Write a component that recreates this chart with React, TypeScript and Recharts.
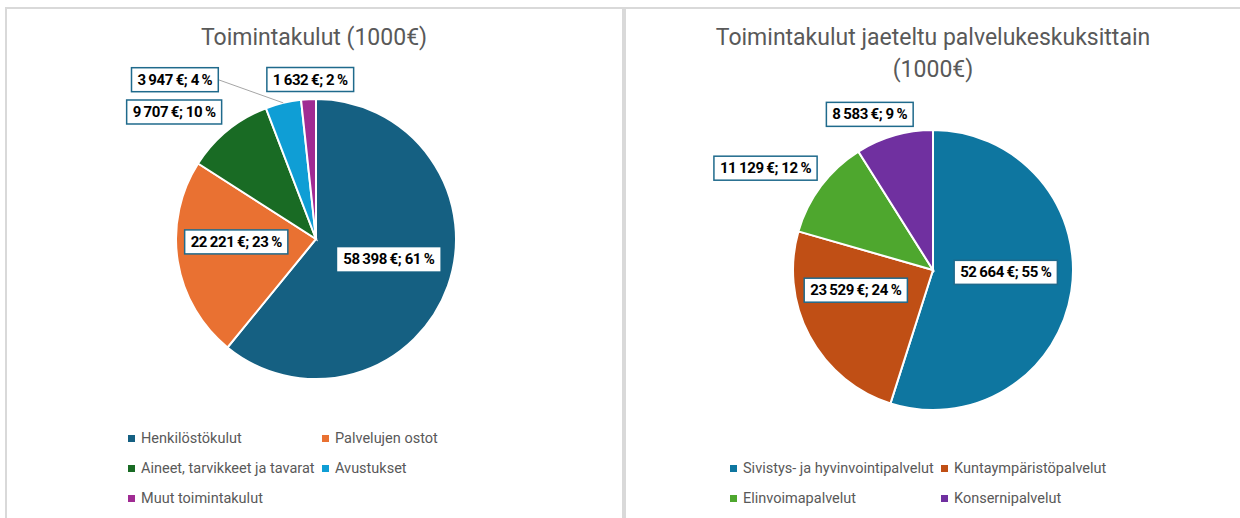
import { PieChart, Pie, Cell } from 'recharts';

const costNames = ['Henkilöstökulut', 'Palvelujen ostot', 'Aineet, tarvikkeet ja tavarat', 'Avustukset', 'Muut toimintakulut'];
const costValues = [58398, 22221, 9707, 3947, 1632];
const costPercents = [61, 23, 10, 4, 2];
const costColors = ['#156082', '#E97132', '#196B24', '#0F9ED5', '#A02B93'];

const centerNames = ['Sivistys- ja hyvinvointipalvelut', 'Kuntaympäristöpalvelut', 'Elinvoimapalvelut', 'Konsernipalvelut'];
const centerValues = [52664, 23529, 11129, 8583];
const centerPercents = [55, 24, 12, 9];
const centerColors = ['#0E76A0', '#C04F15', '#4EA72E', '#7030A0'];

const costData = costNames.map((name, i) => ({ name, value: costValues[i] }));
const centerData = centerNames.map((name, i) => ({ name, value: centerValues[i] }));

const LABEL_FONT = "bold 15px 'Roboto', sans-serif";
const LABEL_SPACING = '-0.4px';
const TEXT_FONT = "'Roboto', sans-serif";
const RAD = Math.PI / 180;
const NO_MARGIN = { top: 0, right: 0, bottom: 0, left: 0 };

// where each data label sits: rf = distance as part of the radius, da = angle shift
const costPlacement = [
  { rf: 0.54, da: 4, box: false, line: false },
  { rf: 0.57, da: -7, box: true, line: false },
  { rf: 1.36, da: 9, box: true, line: false },
  { rf: 1.52, da: 28, box: true, line: true },
  { rf: 1.14, da: -1, box: true, line: false },
];
const centerPlacement = [
  { rf: 0.52, da: 7, box: true, line: false },
  { rf: 0.57, da: -13.5, box: true, line: false },
  { rf: 1.4, da: 5.6, box: true, line: false },
  { rf: 1.2, da: 6, box: true, line: false },
];

let ctx: CanvasRenderingContext2D | null = null;
function measure(text: string): number {
  if (!ctx) ctx = document.createElement('canvas').getContext('2d');
  if (!ctx) return text.length * 7;
  ctx.font = LABEL_FONT;
  (ctx as any).letterSpacing = LABEL_SPACING;
  return ctx.measureText(text).width;
}

function fmt(v: number): string {
  return String(v).replace(/\B(?=(\d{3})+(?!\d))/g, '\u2009');
}

function makeLabel(placement: any[], percents: number[]) {
  return (props: any) => {
    const { cx, cy, midAngle, outerRadius, value, index } = props;
    const p = placement[index];
    const a = (midAngle + p.da) * RAD;
    const x = cx + outerRadius * p.rf * Math.cos(a);
    const y = cy - outerRadius * p.rf * Math.sin(a);
    const text = `${fmt(value)}\u2009€; ${percents[index]}\u2009%`;
    const w = measure(text) + 12;
    const h = 24;
    let line = null;
    if (p.line) {
      const ma = midAngle * RAD;
      line = (
        <line
          x1={x + w / 2}
          y1={y}
          x2={cx + outerRadius * Math.cos(ma)}
          y2={cy - outerRadius * Math.sin(ma)}
          stroke="#a6a6a6"
          strokeWidth={1}
        />
      );
    }
    return (
      <g>
        {line}
        <rect
          x={x - w / 2}
          y={y - h / 2}
          width={w}
          height={h}
          fill="#fff"
          stroke={p.box ? '#1f6a8c' : 'none'}
          strokeWidth={1.5}
        />
        <text
          x={x}
          y={y}
          textAnchor="middle"
          dominantBaseline="central"
          style={{ font: LABEL_FONT, letterSpacing: LABEL_SPACING }}
          fill="#000"
        >
          {text}
        </text>
      </g>
    );
  };
}

function LegendBlock({ names, colors, left, top, colW }: { names: string[]; colors: string[]; left: number; top: number; colW: number }) {
  return (
    <>
      {names.map((n, i) => (
        <div
          key={n}
          style={{
            position: 'absolute',
            left: left + (i % 2) * colW,
            top: top + Math.floor(i / 2) * 30 - 10,
            height: 20,
            display: 'flex',
            alignItems: 'center',
            fontFamily: TEXT_FONT,
            fontSize: 14.5,
            color: '#595959',
            whiteSpace: 'nowrap',
          }}
        >
          <span style={{ width: 7, height: 7, background: colors[i], marginRight: 6, display: 'inline-block' }} />
          {n}
        </div>
      ))}
    </>
  );
}

export default function App() {
  return (
    <div style={{ position: 'absolute', left: 0, top: 0, width: 1240, height: 518, overflow: 'hidden', background: '#fff' }}>
      <div style={{ position: 'absolute', left: 5, top: 7, width: 617, height: 530, border: '2px solid #d9d9d9' }} />
      <div style={{ position: 'absolute', left: 622, top: 7, width: 630, height: 530, border: '2px solid #d9d9d9' }} />

      <div
        style={{
          position: 'absolute', left: 7, top: 24, width: 614, textAlign: 'center',
          fontFamily: TEXT_FONT, fontSize: 23, lineHeight: '28px', color: '#595959',
        }}
      >
        Toimintakulut (1000€)
      </div>
      <div
        style={{
          position: 'absolute', left: 624, top: 22, width: 618, textAlign: 'center',
          fontFamily: TEXT_FONT, fontSize: 23, lineHeight: '32px', color: '#595959',
        }}
      >
        Toimintakulut jaeteltu palvelukeskuksittain
        <br />
        (1000€)
      </div>

      <div style={{ position: 'absolute', left: 7, top: 9 }}>
        <PieChart width={614} height={400} margin={NO_MARGIN}>
          <Pie
            data={costData}
            dataKey="value"
            nameKey="name"
            cx={309}
            cy={230}
            outerRadius={140}
            startAngle={90}
            endAngle={-270}
            stroke="#fff"
            strokeWidth={2}
            label={makeLabel(costPlacement, costPercents)}
            labelLine={false}
            isAnimationActive={false}
          >
            {costData.map((d, i) => (
              <Cell key={d.name} fill={costColors[i]} />
            ))}
          </Pie>
        </PieChart>
      </div>

      <div style={{ position: 'absolute', left: 624, top: 9 }}>
        <PieChart width={616} height={440} margin={NO_MARGIN}>
          <Pie
            data={centerData}
            dataKey="value"
            nameKey="name"
            cx={309}
            cy={261}
            outerRadius={140}
            startAngle={90}
            endAngle={-270}
            stroke="#fff"
            strokeWidth={2}
            label={makeLabel(centerPlacement, centerPercents)}
            labelLine={false}
            isAnimationActive={false}
          >
            {centerData.map((d, i) => (
              <Cell key={d.name} fill={centerColors[i]} />
            ))}
          </Pie>
        </PieChart>
      </div>

      <LegendBlock names={costNames} colors={costColors} left={128} top={438} colW={194} />
      <LegendBlock names={centerNames} colors={centerColors} left={730} top={468} colW={211} />
    </div>
  );
}
